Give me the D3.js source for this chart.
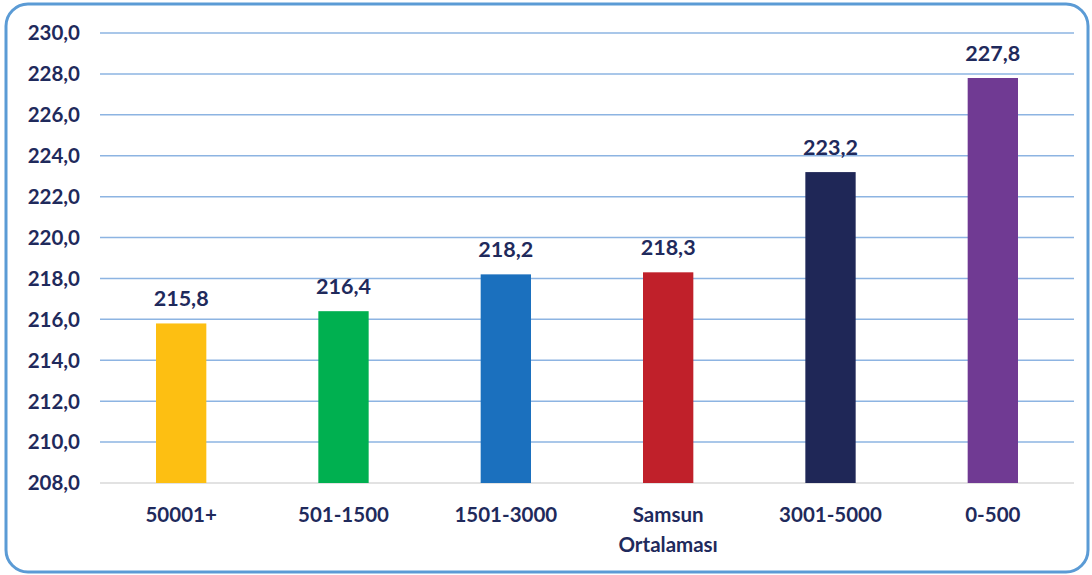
<!DOCTYPE html>
<html><head><meta charset="utf-8">
<script src="https://cdn.jsdelivr.net/npm/d3@7"></script>
<style>body{margin:0;background:#fff;} svg{display:block;} text{font-family:Lato,"Open Sans",sans-serif;font-weight:bold;fill:#1F2A5C;}</style>
</head><body>
<svg id="c" width="1092" height="575"></svg>
<script>
const categories = [["50001+"],["501-1500"],["1501-3000"],["Samsun","Ortalaması"],["3001-5000"],["0-500"]];
const values = [215.8, 216.4, 218.2, 218.3, 223.2, 227.8];
const colors = ["#FDBF12","#00B050","#1B70BE","#C0202A","#1F2757","#703A93"];
const yTicks = [208,210,212,214,216,218,220,222,224,226,228,230];

const svg = d3.select("#c");
svg.append("rect").attr("x",6).attr("y",4).attr("width",1082).attr("height",568)
  .attr("rx",22).attr("fill","#fff").attr("stroke","#5B9BD5").attr("stroke-width",3);

const x = d3.scaleBand().domain(d3.range(values.length)).range([100,1074]).paddingInner(0.69).paddingOuter(0.345);
const y = d3.scaleLinear().domain([208,230]).range([483,33]);
const fmt = v => d3.format(".1f")(v).replace(".",",");

svg.append("g").selectAll("line").data(yTicks.slice(1)).join("line")
  .attr("x1",100).attr("x2",1074).attr("y1",d=>y(d)).attr("y2",d=>y(d))
  .attr("stroke","#8DB4E2").attr("stroke-width",1.5);
svg.append("line").attr("x1",100).attr("x2",1074).attr("y1",y(208)).attr("y2",y(208))
  .attr("stroke","#D9D9D9").attr("stroke-width",1.5);

svg.append("g").selectAll("text").data(yTicks).join("text")
  .attr("x",80).attr("y",d=>y(d)).attr("dy","0.36em").attr("text-anchor","end")
  .attr("font-size",20.5).text(fmt);

svg.append("g").selectAll("rect").data(values).join("rect")
  .attr("x",(d,i)=>x(i)).attr("width",x.bandwidth())
  .attr("y",d=>y(d)).attr("height",d=>y(208)-y(d)).attr("fill",(d,i)=>colors[i]);

svg.append("g").selectAll("text").data(values).join("text")
  .attr("x",(d,i)=>x(i)+x.bandwidth()/2).attr("y",d=>y(d)-17)
  .attr("text-anchor","middle").attr("font-size",21.5).text(fmt);

const xl = svg.append("g").selectAll("text").data(categories).join("text")
  .attr("x",(d,i)=>x(i)+x.bandwidth()/2).attr("y",522)
  .attr("text-anchor","middle").attr("font-size",20.5);
xl.selectAll("tspan").data(d=>d).join("tspan")
  .attr("x",function(){return this.parentNode.getAttribute("x");})
  .attr("dy",(d,j)=>j===0?0:"1.45em").text(d=>d);
</script>
</body></html>
